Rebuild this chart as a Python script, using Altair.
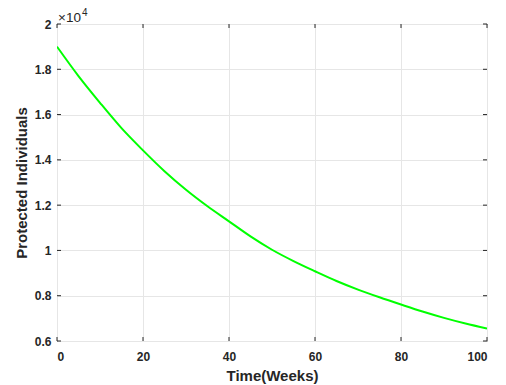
import altair as alt
import pandas as pd

weeks = [0, 5, 10, 15, 20, 25, 30, 35, 40, 45, 50, 55, 60, 65, 70, 75, 80, 85, 90, 95, 100]
protected = [19000, 17700, 16520, 15400, 14420, 13500, 12680, 11950, 11285, 10620, 10030,
             9530, 9080, 8650, 8270, 7930, 7610, 7300, 7020, 6770, 6550]

x_ticks = [0, 20, 40, 60, 80, 100]
y_ticks = [6000, 8000, 10000, 12000, 14000, 16000, 18000, 20000]

W, H = 430, 317
FONT = "Liberation Sans"

df = pd.DataFrame({"week": weeks, "protected": protected})
xt = pd.DataFrame({"t": x_ticks})
yt = pd.DataFrame({"t": y_ticks})

xs = alt.Scale(domain=[0, 100], nice=False, zero=False)
ys = alt.Scale(domain=[6000, 20000], nice=False, zero=False)

line = alt.Chart(df).mark_line(color="#00ff00", strokeWidth=2, interpolate="monotone", clip=True).encode(
    x=alt.X("week:Q", scale=xs, title="Time(Weeks)",
            axis=alt.Axis(values=x_ticks, grid=True, domain=False, ticks=False,
                          labelPadding=10, titlePadding=6)),
    y=alt.Y("protected:Q", scale=ys, title="Protected Individuals",
            axis=alt.Axis(values=y_ticks, grid=True, domain=False, ticks=False,
                          labelPadding=6, titlePadding=5,
                          labelExpr="datum.value / 10000")),
)

tick_color = "#262626"
yl = alt.Chart(yt).mark_rule(color=tick_color, strokeWidth=1).encode(
    y=alt.Y("t:Q", scale=ys), x=alt.value(0), x2=alt.value(4))
yr = alt.Chart(yt).mark_rule(color=tick_color, strokeWidth=1).encode(
    y=alt.Y("t:Q", scale=ys), x=alt.value(W - 4), x2=alt.value(W))
xb = alt.Chart(xt).mark_rule(color=tick_color, strokeWidth=1).encode(
    x=alt.X("t:Q", scale=xs), y=alt.value(H), y2=alt.value(H - 4))
xtp = alt.Chart(xt).mark_rule(color=tick_color, strokeWidth=1).encode(
    x=alt.X("t:Q", scale=xs), y=alt.value(0), y2=alt.value(4))

exp_base = alt.Chart(pd.DataFrame({"s": ["×10"]})).mark_text(
    font=FONT, fontSize=13.5, color="#262626", align="left", baseline="alphabetic").encode(
    text="s:N", x=alt.value(1), y=alt.value(-2))
exp_pow = alt.Chart(pd.DataFrame({"s": ["4"]})).mark_text(
    font=FONT, fontSize=10, color="#262626", align="left", baseline="alphabetic").encode(
    text="s:N", x=alt.value(25), y=alt.value(-8))

chart = alt.layer(line, yl, yr, xb, xtp, exp_base, exp_pow).properties(
    width=W, height=H,
    autosize=alt.AutoSizeParams(type="none"),
    padding={"left": 49, "top": 16, "right": 10, "bottom": 44},
    background="white",
).configure_view(stroke="#262626", strokeWidth=1).configure_axis(
    labelFont=FONT, labelFontSize=12, labelFontWeight="bold", labelColor="#262626",
    titleFont=FONT, titleFontSize=15, titleFontWeight="bold", titleColor="#262626",
    gridColor="#e6e6e6", gridWidth=1,
)

chart.save("out.html", embed_options={"renderer": "svg", "actions": False})
